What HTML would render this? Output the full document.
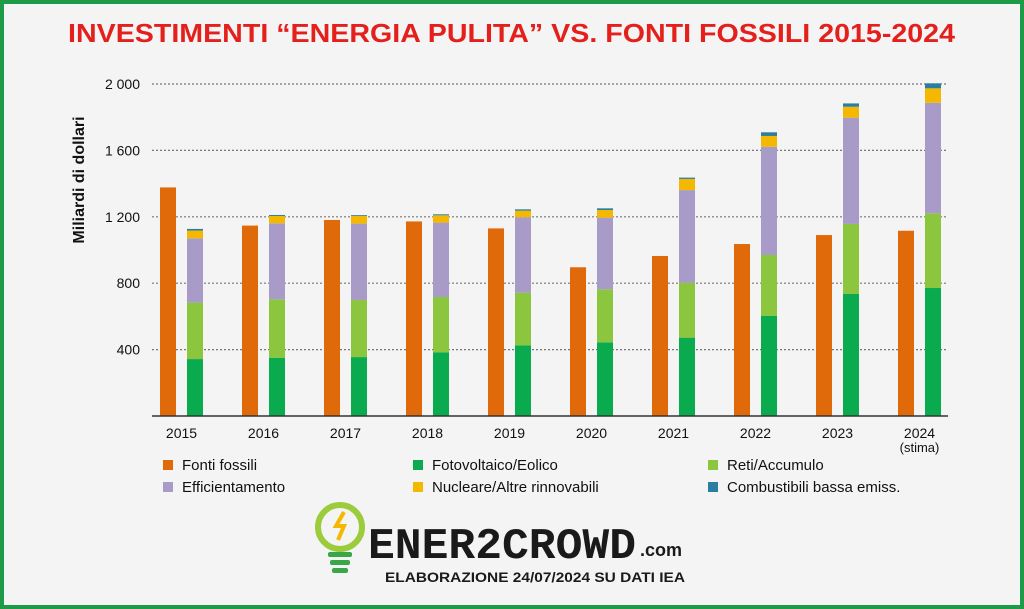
<!DOCTYPE html>
<html><head><meta charset="utf-8"><style>
body{margin:0;width:1024px;height:609px;overflow:hidden;background:#fff;font-family:"Liberation Sans",sans-serif}
#frame{position:absolute;left:0;top:0;width:1016px;height:601px;border:4px solid #1f9a48;background:#f4f4f4}
</style></head><body>
<div id="frame"></div>
<svg id="c" width="1024" height="609" style="position:absolute;left:0;top:0">
<text x="68" y="42" font-size="26" font-weight="bold" fill="#e3201b" textLength="887" lengthAdjust="spacingAndGlyphs">INVESTIMENTI “ENERGIA PULITA” VS. FONTI FOSSILI 2015-2024</text>
<text transform="translate(84,180) rotate(-90)" text-anchor="middle" font-size="16" font-weight="bold" fill="#111">Miliardi di dollari</text>
<g id="grid"></g><g id="bars"></g><g id="xl"></g>
<line x1="152" y1="416" x2="948" y2="416" stroke="#333" stroke-width="1.5"/>
<g id="legend"></g>
<g>
<circle cx="340" cy="527" r="22" fill="none" stroke="#9ccb3b" stroke-width="6"/>
<path d="M344 512 l-8 14 h8 l-6 14" stroke="#f5b800" stroke-width="4" fill="none"/>
<rect x="328" y="552" width="24" height="5" rx="2" fill="#3aa64a"/>
<rect x="330" y="560" width="20" height="5" rx="2" fill="#3aa64a"/>
<rect x="332" y="568" width="16" height="5" rx="2" fill="#3aa64a"/>
<text x="368" y="558" font-size="44" font-weight="bold" fill="#1a1a1a" font-family="Liberation Mono,monospace" textLength="268" lengthAdjust="spacingAndGlyphs">ENER2CROWD</text>
<text x="640" y="556" font-size="18" font-weight="bold" fill="#1a1a1a">.com</text>
<text x="385" y="582" font-size="14" font-weight="bold" fill="#1a1a1a" textLength="300" lengthAdjust="spacingAndGlyphs">ELABORAZIONE 24/07/2024 SU DATI IEA</text>
</g>
</svg>
<script>
const years=["2015","2016","2017","2018","2019","2020","2021","2022","2023","2024"];
const fossil=[1377,1147,1181,1172,1130,896,964,1036,1090,1116];
const solarWind=[343,351,355,384,426,444,472,604,735,771];
const grids=[340,352,344,333,317,319,331,366,422,450];
const efficiency=[387,458,460,448,454,432,558,652,640,666];
const nuclear=[47,44,46,44,40,46,67,65,66,87];
const lowEmission=[10,6,5,6,8,10,8,22,20,30];
const yTicks=[400,800,1200,1600,2000];
const tickLabels=["400","800","1 200","1 600","2 000"];
const legendNames=["Fonti fossili","Fotovoltaico/Eolico","Reti/Accumulo","Efficientamento","Nucleare/Altre rinnovabili","Combustibili bassa emiss."];
const colors=["#e06a0a","#0aab4f","#8cc63f","#a99bc7","#f5b800","#2a7fa0"];
const NS="http://www.w3.org/2000/svg";
const y=v=>416-v*0.166;
const xc=i=>181.5+i*82;
function mk(t,a,p){const e=document.createElementNS(NS,t);for(const k in a)e.setAttribute(k,a[k]);p.appendChild(e);return e;}
const g=document.getElementById('grid');
yTicks.forEach((t,i)=>{
 const l=mk('line',{x1:152,x2:948,y1:y(t),y2:y(t),stroke:'#777','stroke-dasharray':'2,2','stroke-width':1.2},g);
 
 
 const tx=mk('text',{x:140,y:y(t)+5,'text-anchor':'end','font-size':14,fill:'#111'},g);tx.textContent=tickLabels[i];
 
 
});
const b=document.getElementById('bars');
const xl=document.getElementById('xl');
years.forEach((yr,i)=>{
 const r=mk('rect',{x:xc(i)-21.5,width:16,y:y(fossil[i]),height:fossil[i]*0.166,fill:colors[0]},b);
 
 
 let base=0;
 [solarWind,grids,efficiency,nuclear,lowEmission].forEach((s,k)=>{
  const v=s[i];
  const rr=mk('rect',{x:xc(i)+5.5,width:16,y:y(base+v),height:v*0.166,fill:colors[k+1]},b);
  
  
  base+=v;
 });
 const t=mk('text',{x:xc(i),y:438,'text-anchor':'middle','font-size':14,fill:'#111'},xl);t.textContent=yr;
 
 
});
const st=mk('text',{x:xc(9),y:452,'text-anchor':'middle','font-size':13,fill:'#111'},xl);st.textContent="(stima)";


const lg=document.getElementById('legend');
const lx=[163,413,708];
legendNames.forEach((n,i)=>{
 const cx=lx[i%3], cy=i<3?466:488;
 const gg=mk('g',{},lg);
 
 
 mk('rect',{x:cx,y:cy-6,width:10,height:10,fill:colors[i]},gg);
 const t=mk('text',{x:cx+19,y:cy+4,'font-size':15,fill:'#111'},gg);t.textContent=n;
});
</script>
</body></html>
